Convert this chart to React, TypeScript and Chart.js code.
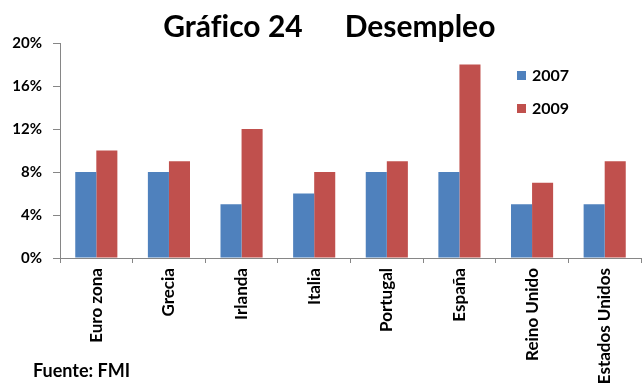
import { useEffect, useRef } from "react";
import { Chart, registerables } from "chart.js";

Chart.register(...registerables);

const categories = [
  "Euro zona",
  "Grecia",
  "Irlanda",
  "Italia",
  "Portugal",
  "España",
  "Reino Unido",
  "Estados Unidos",
];
const seriesNames = ["2007", "2009"];
const values2007 = [8, 8, 5, 6, 8, 8, 5, 5];
const values2009 = [10, 9, 12, 8, 9, 18, 7, 9];
const yMax = 20;
const yStep = 4;
// Title in two parts with a wide gap between number and subject;
// a zero-width non-joiner keeps "f" and "i" as separate glyphs
const titleNumber = "Gráf\u200Cico 24";
const titleSubject = "Desempleo";
const sourceText = "Fuente: FMI";

const FONT = "Lato, 'Open Sans', sans-serif";
const BLUE = "#4F81BD";
const RED = "#C0504D";
const AXIS = "#868686";

// Title, in-plot legend and source note drawn on the canvas
const decorations = {
  id: "decorations",
  afterDraw(chart: Chart) {
    const ctx = chart.ctx;
    ctx.save();
    ctx.fillStyle = "#000";
    ctx.textBaseline = "alphabetic";

    ctx.font = `bold 30px ${FONT}`;
    ctx.textAlign = "center";
    ctx.fillText(titleNumber, 233, 37);
    ctx.fillText(titleSubject, 420, 37);

    const rows = [76, 109];
    chart.data.datasets.forEach((ds, i) => {
      const cy = rows[i];
      ctx.fillStyle = ds.backgroundColor as string;
      ctx.fillRect(517, cy - 5, 9, 9);
      ctx.fillStyle = "#000";
      ctx.font = `bold 16px ${FONT}`;
      ctx.textAlign = "left";
      ctx.textBaseline = "middle";
      ctx.fillText(ds.label as string, 532, cy);
    });

    ctx.textBaseline = "alphabetic";
    ctx.textAlign = "left";
    ctx.font = `bold 18px ${FONT}`;
    ctx.fillText(sourceText, 33, 377);
    ctx.restore();
  },
};

export default function App() {
  const ref = useRef<HTMLCanvasElement | null>(null);

  useEffect(() => {
    if (!ref.current) return;
    const chart = new Chart(ref.current, {
      type: "bar",
      data: {
        labels: categories,
        datasets: [
          { label: seriesNames[0], data: values2007, backgroundColor: BLUE },
          { label: seriesNames[1], data: values2009, backgroundColor: RED },
        ],
      },
      options: {
        animation: false,
        responsive: true,
        maintainAspectRatio: false,
        layout: { padding: { top: 43, left: 0, right: 3, bottom: 0 } },
        datasets: {
          bar: { categoryPercentage: 0.58, barPercentage: 1, borderWidth: 0 },
        },
        plugins: {
          legend: { display: false },
          title: { display: false },
          tooltip: { enabled: false },
        },
        scales: {
          x: {
            afterFit: (s: any) => {
              s.height = 127;
            },
            border: { display: true, color: AXIS, width: 1 },
            grid: {
              display: true,
              offset: true,
              drawOnChartArea: false,
              drawTicks: true,
              tickLength: 5,
              color: AXIS,
            },
            ticks: {
              minRotation: 90,
              maxRotation: 90,
              autoSkip: false,
              padding: 5,
              color: "#000",
              font: { family: FONT, size: 17, weight: "bold" },
            },
          },
          y: {
            min: 0,
            max: yMax,
            afterFit: (s: any) => {
              s.width = 60;
            },
            border: { display: true, color: AXIS, width: 1 },
            grid: {
              display: true,
              drawOnChartArea: false,
              drawTicks: true,
              tickLength: 7,
              color: AXIS,
            },
            ticks: {
              stepSize: yStep,
              padding: 11,
              color: "#000",
              font: { family: FONT, size: 15, weight: "bold" },
              callback: (v: any) => `${v}%`,
            },
          },
        },
      },
      plugins: [decorations],
    });
    return () => chart.destroy();
  }, []);

  return (
    <div
      style={{
        position: "absolute",
        left: 0,
        top: 0,
        width: 644,
        height: 385,
        background: "#fff",
      }}
    >
      <canvas ref={ref} />
    </div>
  );
}
